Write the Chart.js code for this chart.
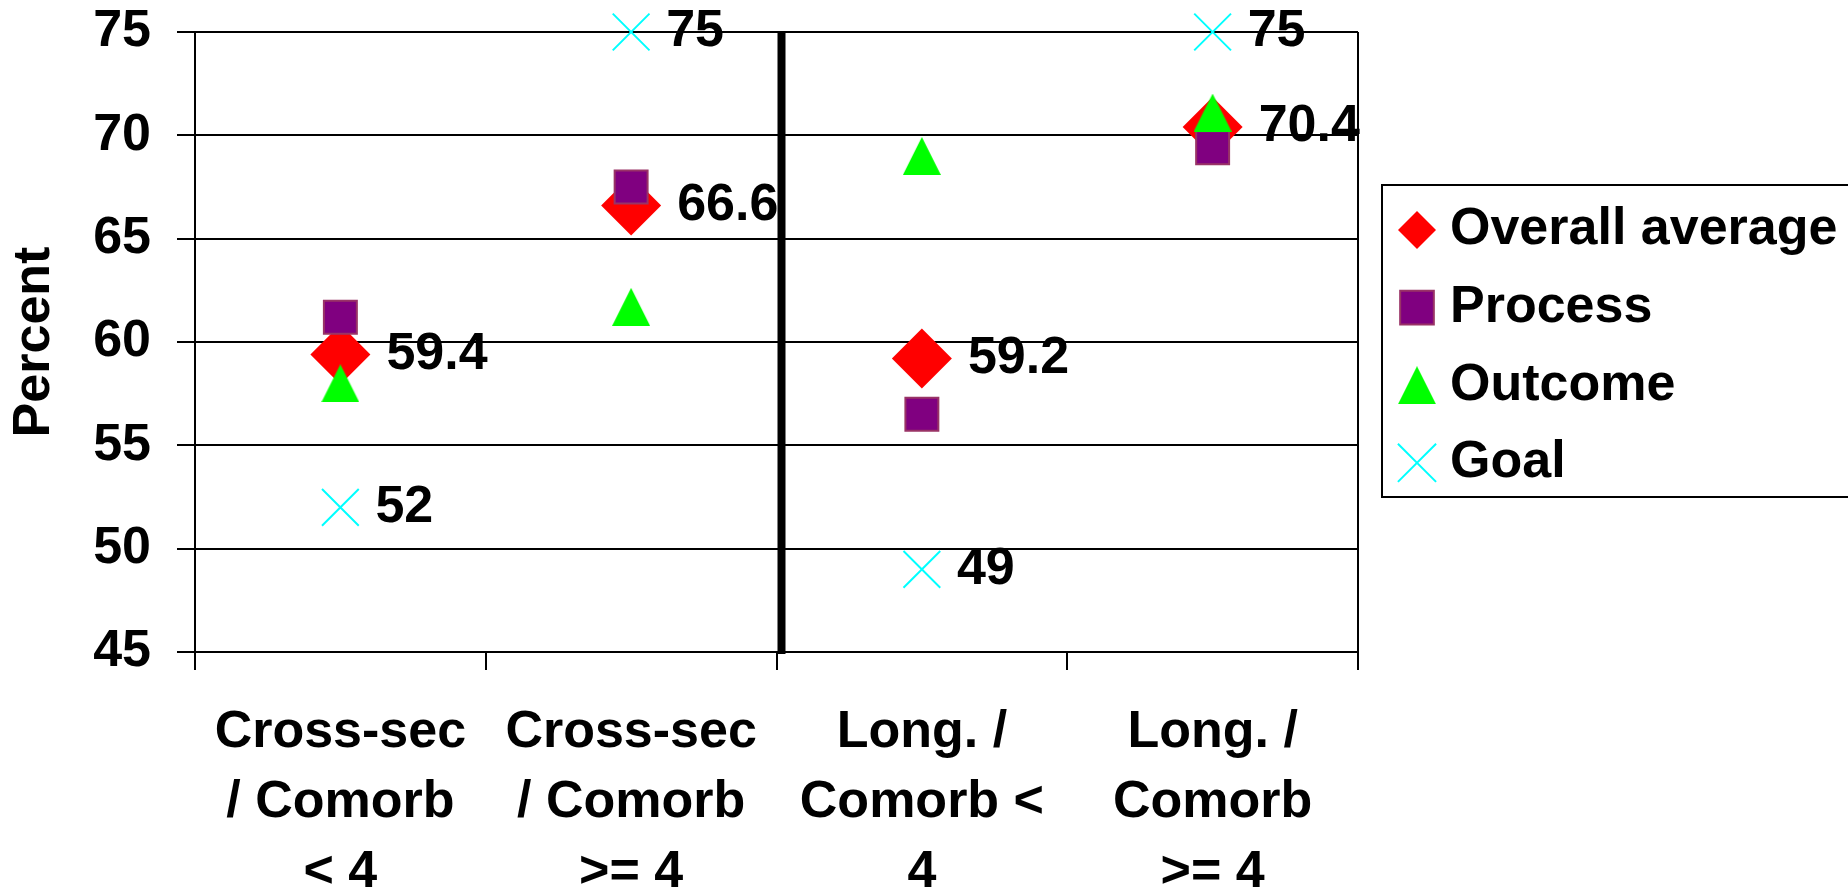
<!DOCTYPE html>
<html>
<head>
<meta charset="utf-8">
<script src="https://cdn.jsdelivr.net/npm/chart.js@4.4.1/dist/chart.umd.min.js"></script>
<style>
  html, body { margin: 0; padding: 0; background: #ffffff; }
  canvas { display: block; }
</style>
</head>
<body>
<canvas id="chart" width="1848" height="891"></canvas>
<script>
// Study design / comorbidity groups (multi-line axis labels)
const categories = [
  ['Cross-sec', '/ Comorb', '< 4'],
  ['Cross-sec', '/ Comorb', '>= 4'],
  ['Long. /', 'Comorb <', '4'],
  ['Long. /', 'Comorb', '>= 4']
];
const overallAverage = [59.4, 66.6, 59.2, 70.4];
const processScores  = [61.2, 67.5, 56.5, 69.4];
const outcomeScores  = [58.0, 61.7, 69.0, 71.1];
const goalScores     = [52, 75, 49, 75];
const yTicks = [45, 50, 55, 60, 65, 70, 75];

const FAMILY = "'Liberation Sans', Arial, Helvetica, sans-serif";
const BOLD = { family: FAMILY, size: 52, weight: 'bold' };

// Upright triangle marker, centred on its bounding box
function triangleMarker(size, color) {
  const c = document.createElement('canvas');
  c.width = size; c.height = size;
  const g = c.getContext('2d');
  g.fillStyle = color;
  g.beginPath();
  g.moveTo(size / 2, 0);
  g.lineTo(size, size);
  g.lineTo(0, size);
  g.closePath();
  g.fill();
  return c;
}

function drawMarker(ctx, ds, x, y, r) {
  ctx.save();
  ctx.fillStyle = ds.pointBackgroundColor;
  ctx.strokeStyle = ds.pointBorderColor;
  ctx.lineWidth = ds.pointBorderWidth;
  Chart.helpers.drawPoint(ctx, {
    pointStyle: ds.pointStyle, radius: r, rotation: 0, borderWidth: ds.pointBorderWidth
  }, x, y);
  ctx.restore();
}

// Heavy separator between the cross-sectional and longitudinal groups
const divider = {
  id: 'divider',
  beforeDatasetsDraw(chart, args, opts) {
    const { ctx, chartArea, scales: { x } } = chart;
    const px = x.getPixelForValue(opts.after + 0.5) + opts.shift;
    ctx.save();
    ctx.strokeStyle = '#000';
    ctx.lineWidth = opts.width;
    ctx.beginPath();
    ctx.moveTo(px, chartArea.top - 1);
    ctx.lineTo(px, chartArea.bottom + 2);
    ctx.stroke();
    ctx.restore();
  }
};

// Value labels to the right of the labelled series
const valueLabels = {
  id: 'valueLabels',
  afterDatasetsDraw(chart) {
    const ctx = chart.ctx;
    ctx.save();
    ctx.font = `bold ${BOLD.size}px ${FAMILY}`;
    ctx.fillStyle = '#000';
    ctx.textAlign = 'left';
    ctx.textBaseline = 'middle';
    chart.data.datasets.forEach((ds, i) => {
      if (!ds.labelGap) return;
      chart.getDatasetMeta(i).data.forEach((pt, j) => {
        ctx.fillText(String(ds.data[j]), pt.x + ds.labelGap, pt.y);
      });
    });
    ctx.restore();
  }
};

// Boxed legend on the right
const boxLegend = {
  id: 'boxLegend',
  afterDraw(chart, args, opts) {
    const ctx = chart.ctx;
    ctx.save();
    ctx.strokeStyle = '#000';
    ctx.lineWidth = 2;
    ctx.strokeRect(opts.left, opts.top, opts.width, opts.height);
    ctx.font = `bold ${BOLD.size}px ${FAMILY}`;
    ctx.textAlign = 'left';
    ctx.textBaseline = 'middle';
    chart.data.datasets.forEach((ds, i) => {
      const y = opts.firstRow + i * opts.rowGap;
      drawMarker(ctx, ds, opts.markerX, y, ds.legendRadius);
      ctx.fillStyle = '#000';
      ctx.fillText(ds.label, opts.textX, y);
    });
    ctx.restore();
  }
};

const triangle = triangleMarker(38, '#00FF00');

new Chart(document.getElementById('chart'), {
  type: 'line',
  data: {
    labels: categories,
    datasets: [
      {
        label: 'Overall average', data: overallAverage, order: 4,
        pointStyle: 'rectRot', pointRadius: 30, pointHoverRadius: 30,
        pointBackgroundColor: '#FF0000', pointBorderColor: '#FF0000', pointBorderWidth: 0,
        labelGap: 46, legendRadius: 19
      },
      {
        label: 'Process', data: processScores, order: 3,
        pointStyle: 'rect', pointRadius: 23.3, pointHoverRadius: 23.3,
        pointBackgroundColor: '#800080', pointBorderColor: '#993366', pointBorderWidth: 2,
        legendRadius: 23.8
      },
      {
        label: 'Outcome', data: outcomeScores, order: 2,
        pointStyle: triangle, pointRadius: 19, pointHoverRadius: 19,
        pointBackgroundColor: '#00FF00', pointBorderColor: '#00FF00', pointBorderWidth: 0,
        legendRadius: 19
      },
      {
        label: 'Goal', data: goalScores, order: 1,
        pointStyle: 'crossRot', pointRadius: 26, pointHoverRadius: 26,
        pointBackgroundColor: '#00FFFF', pointBorderColor: '#00FFFF', pointBorderWidth: 2,
        labelGap: 35, legendRadius: 27
      }
    ].map(ds => Object.assign({ showLine: false, clip: false, borderColor: ds.pointBorderColor, backgroundColor: ds.pointBackgroundColor }, ds))
  },
  options: {
    responsive: false,
    animation: false,
    devicePixelRatio: 1,
    events: [],
    layout: { padding: { left: 0, right: 490, top: 32, bottom: 0 } },
    plugins: {
      legend: { display: false },
      tooltip: { enabled: false },
      divider: { after: 1, shift: 5, width: 8 },
      boxLegend: {
        left: 1382, top: 185, width: 520, height: 312,
        firstRow: 230, rowGap: 77.6, markerX: 1417, textX: 1450
      }
    },
    scales: {
      x: {
        offset: true,
        grid: {
          offset: true,
          drawOnChartArea: true,
          color: c => (c.type !== 'tick' || c.index === 0) ? '#000' : 'rgba(0,0,0,0)',
          lineWidth: 2,
          tickLength: 18,
          tickColor: '#000',
          tickWidth: 2
        },
        border: { display: false },
        ticks: {
          color: '#000',
          font: Object.assign({}, BOLD, { lineHeight: 70 / 52 }),
          padding: 28,
          maxRotation: 0,
          autoSkip: false
        },
        afterFit: s => { s.height = 239; s.paddingLeft = 0; s.paddingRight = 0; }
      },
      y: {
        min: yTicks[0],
        max: yTicks[yTicks.length - 1],
        ticks: {
          stepSize: yTicks[1] - yTicks[0],
          color: '#000',
          font: BOLD,
          padding: 26
        },
        grid: { color: '#000', lineWidth: 2, tickLength: 18, tickColor: '#000', tickWidth: 2 },
        border: { display: true, color: '#000', width: 2 },
        title: {
          display: true, text: 'Percent', color: '#000', font: BOLD,
          padding: { top: 3, bottom: 0 }
        },
        afterFit: s => { s.width = 195; s.paddingTop = 0; s.paddingBottom = 0; }
      }
    }
  },
  plugins: [divider, valueLabels, boxLegend]
});
</script>
</body>
</html>
